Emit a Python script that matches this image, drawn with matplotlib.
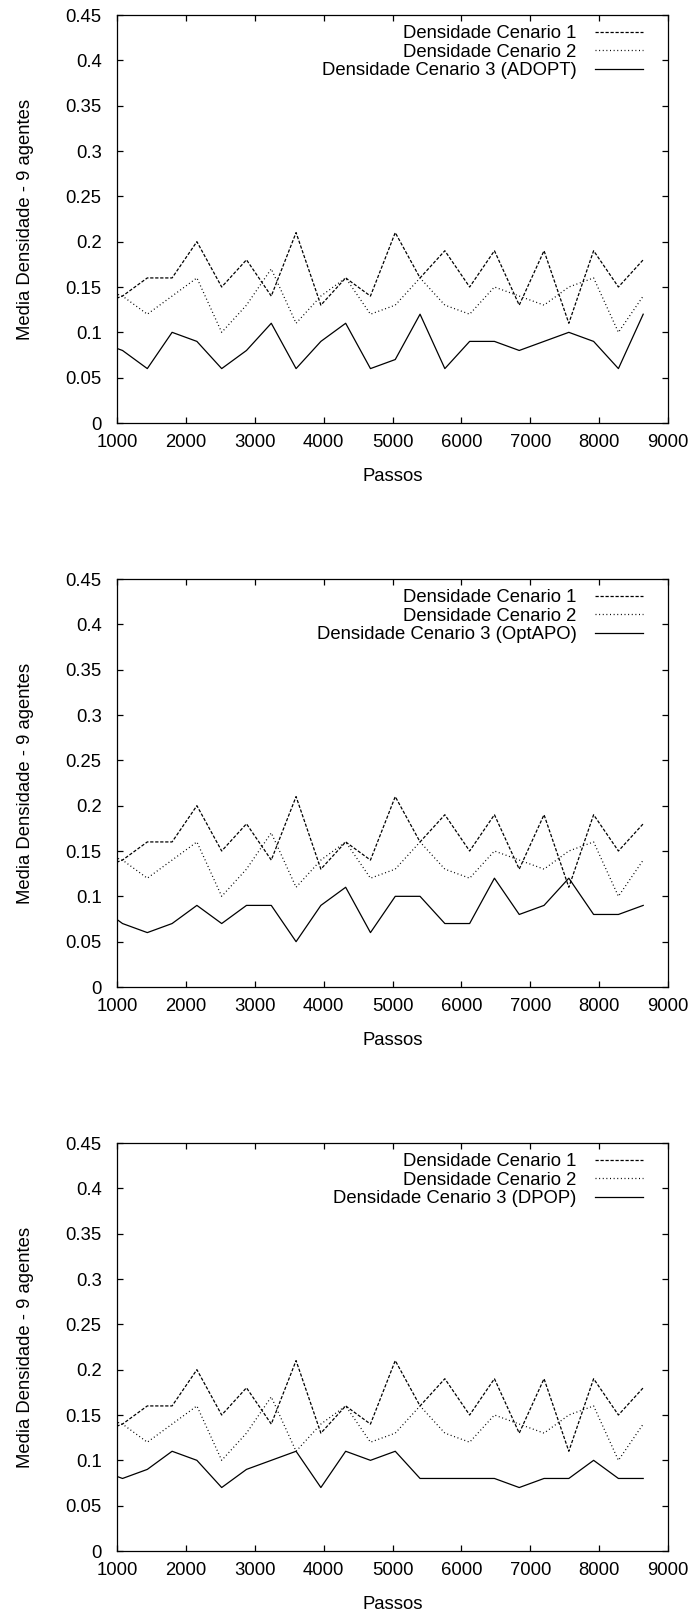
import matplotlib
matplotlib.use('Agg')
import numpy as np
from matplotlib import pyplot as plt
from matplotlib.ticker import FormatStrFormatter

plt.rcParams['font.family'] = ['Liberation Sans', 'DejaVu Sans']

# passos (first point lies left of the x range and is clipped)
passos = [720, 1080, 1440, 1800, 2160, 2520, 2880, 3240, 3600, 3960, 4320, 4680,
          5040, 5400, 5760, 6120, 6480, 6840, 7200, 7560, 7920, 8280, 8640]

cenario1 = [0.13, 0.14, 0.16, 0.16, 0.20, 0.15, 0.18, 0.14, 0.21, 0.13, 0.16, 0.14,
            0.21, 0.16, 0.19, 0.15, 0.19, 0.13, 0.19, 0.11, 0.19, 0.15, 0.18]
cenario2 = [0.15, 0.14, 0.12, 0.14, 0.16, 0.10, 0.13, 0.17, 0.11, 0.14, 0.16, 0.12,
            0.13, 0.16, 0.13, 0.12, 0.15, 0.14, 0.13, 0.15, 0.16, 0.10, 0.14]

adopt = [0.09, 0.08, 0.06, 0.10, 0.09, 0.06, 0.08, 0.11, 0.06, 0.09, 0.11, 0.06,
         0.07, 0.12, 0.06, 0.09, 0.09, 0.08, 0.09, 0.10, 0.09, 0.06, 0.12]
optapo = [0.09, 0.07, 0.06, 0.07, 0.09, 0.07, 0.09, 0.09, 0.05, 0.09, 0.11, 0.06,
          0.10, 0.10, 0.07, 0.07, 0.12, 0.08, 0.09, 0.12, 0.08, 0.08, 0.09]
dpop = [0.09, 0.08, 0.09, 0.11, 0.10, 0.07, 0.09, 0.10, 0.11, 0.07, 0.11, 0.10,
        0.11, 0.08, 0.08, 0.08, 0.08, 0.07, 0.08, 0.08, 0.10, 0.08, 0.08]

algoritmos = ['ADOPT', 'OptAPO', 'DPOP']
cenario3 = [adopt, optapo, dpop]

xticks = [1000, 2000, 3000, 4000, 5000, 6000, 7000, 8000, 9000]
yticks = [0, 0.05, 0.1, 0.15, 0.2, 0.25, 0.3, 0.35, 0.4, 0.45]

W, H = 694, 1614
fig = plt.figure(figsize=(W / 100.0, H / 100.0), dpi=100)

left = 117.0
right = 668.0
tops = [15.0, 579.0, 1143.0]
alt = 408.0
fs = 13.3

for i in range(3):
    ax = fig.add_axes([left / W, 1 - (tops[i] + alt) / H, (right - left) / W, alt / H])
    ax.plot(passos, cenario1, color='black', lw=0.9, dashes=(2.6, 1.4),
            label='Densidade Cenario 1')
    ax.plot(passos, cenario2, color='black', lw=0.9, dashes=(0.8, 2.1),
            label='Densidade Cenario 2')
    ax.plot(passos, cenario3[i], color='black', lw=0.9,
            label='Densidade Cenario 3 (%s)' % algoritmos[i])
    ax.set_xlim(1000, 9000)
    ax.set_ylim(0, 0.45)
    ax.set_xticks(xticks)
    ax.set_yticks(yticks)
    ax.yaxis.set_major_formatter(FormatStrFormatter('%g'))
    ax.tick_params(direction='in', length=4.5, width=0.9, top=True, right=True,
                   labelsize=fs, color='black')
    ax.tick_params(axis='x', pad=8)
    ax.tick_params(axis='y', pad=11)
    for s in ax.spines.values():
        s.set_linewidth(0.9)
    ax.set_xlabel('Passos', fontsize=fs)
    ax.set_ylabel('Media Densidade - 9 agentes', fontsize=fs)
    ax.xaxis.set_label_coords(0.5, -53.7 / alt)
    ax.xaxis.label.set_va('center')
    ax.yaxis.set_label_coords(-(117 - 26) / (right - left), 0.5)
    ax.yaxis.label.set_va('center')
    leg = ax.legend(loc='upper right', bbox_to_anchor=((643 - left) / (right - left), 1 - 10.5 / alt),
                    markerfirst=False, frameon=False, fontsize=fs,
                    handlelength=2.6, handletextpad=1.0, labelspacing=0.07,
                    borderaxespad=0, borderpad=0)

plt.savefig('out.png', dpi=100)
